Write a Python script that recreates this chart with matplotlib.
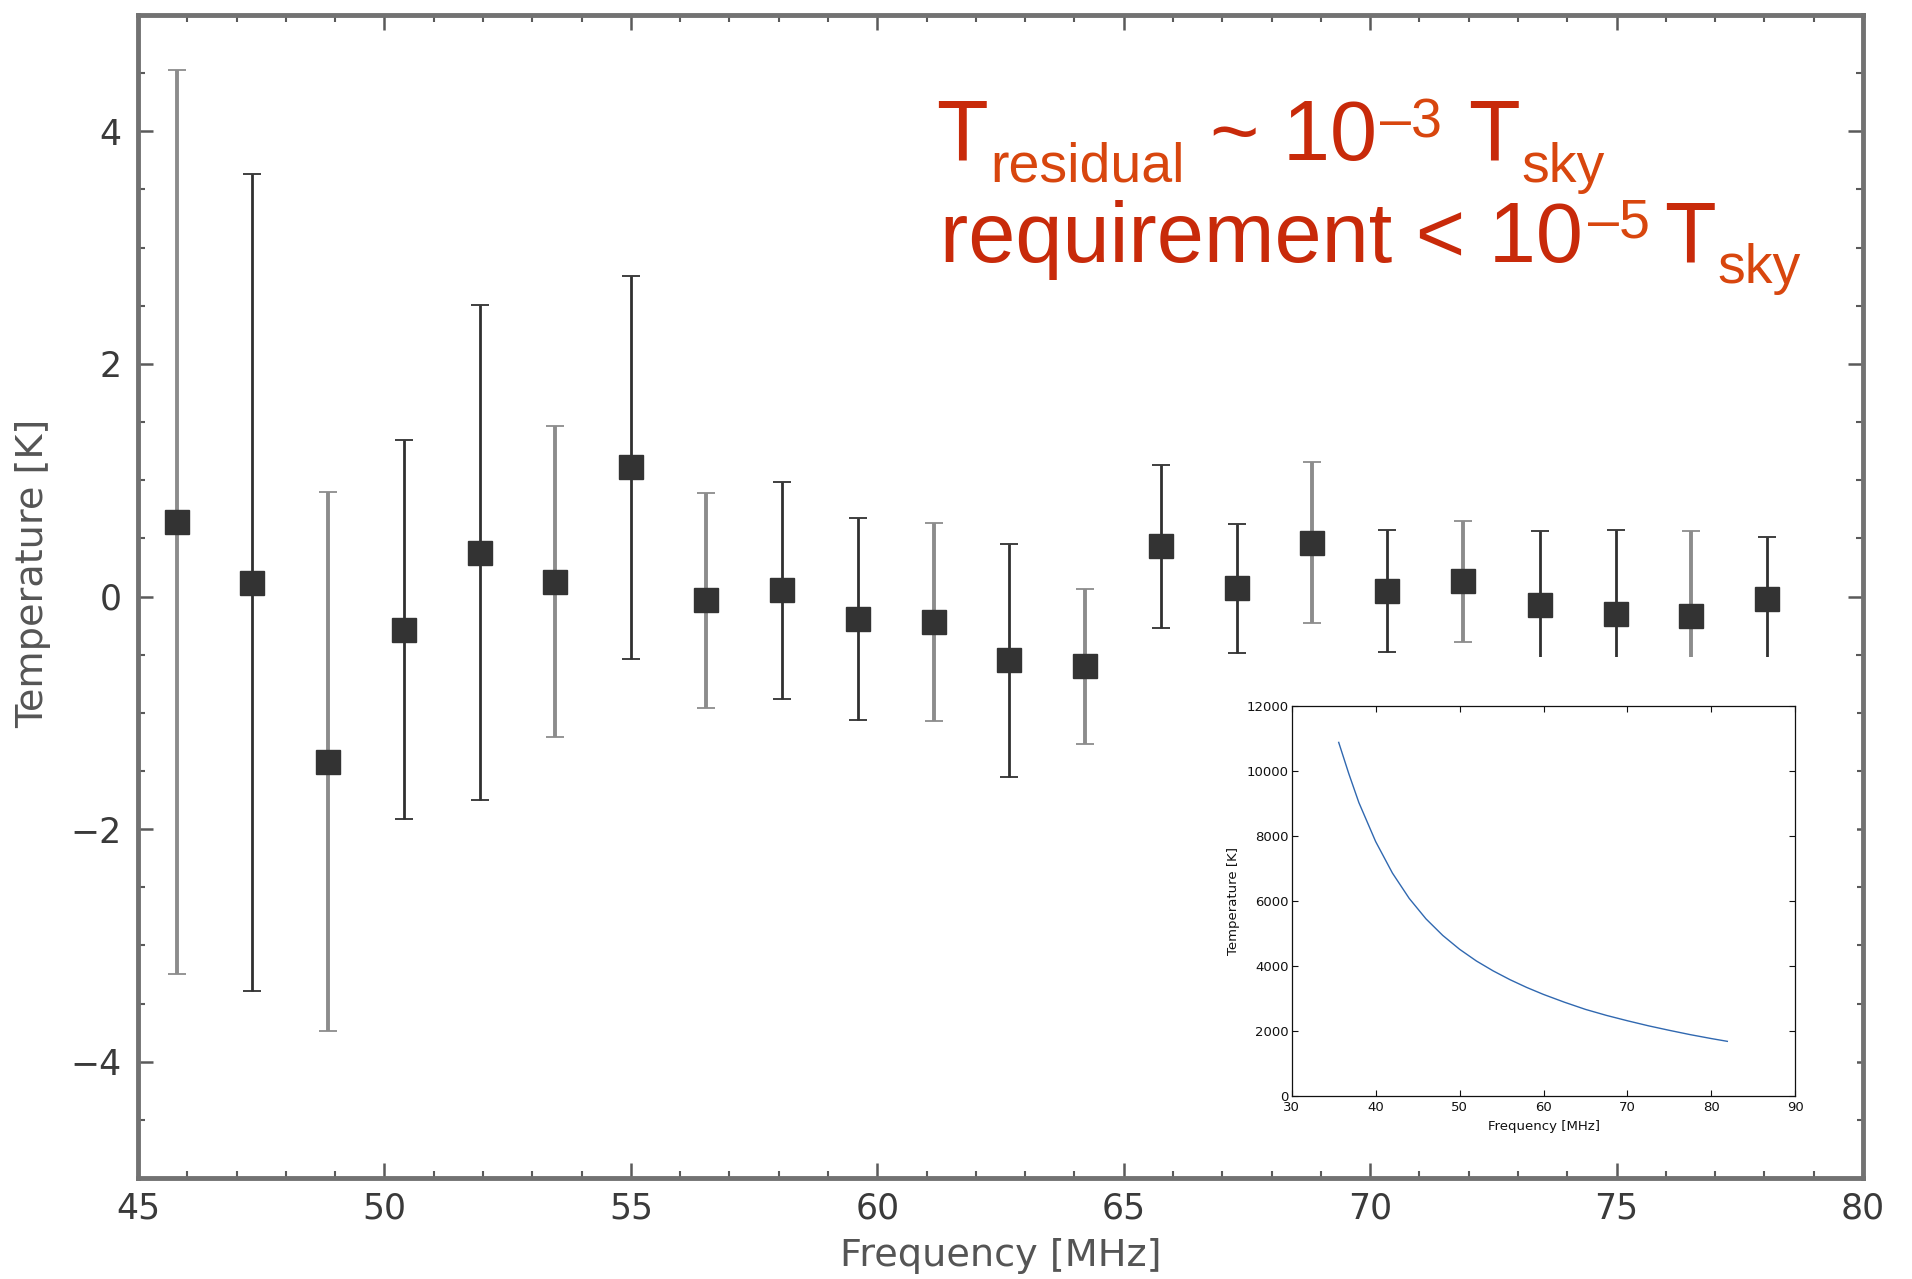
import matplotlib
matplotlib.use("Agg")
import matplotlib.pyplot as plt
from matplotlib.patches import Rectangle
from matplotlib.ticker import MultipleLocator

# residual spectrum (main panel)
freq = [45.79, 47.32, 48.86, 50.39, 51.93, 53.46, 55.00, 56.53, 58.07, 59.60, 61.15,
        62.68, 64.22, 65.75, 67.29, 68.82, 70.35, 71.89, 73.44, 74.98, 76.51, 78.05]
resid = [0.64, 0.12, -1.42, -0.285, 0.377, 0.126, 1.11, -0.033, 0.052, -0.193, -0.222,
         -0.55, -0.60, 0.43, 0.07, 0.463, 0.044, 0.129, -0.076, -0.151, -0.165, -0.02]
resid_err = [3.89, 3.51, 2.32, 1.63, 2.13, 1.336, 1.645, 0.927, 0.93, 0.87, 0.85,
             1.0, 0.665, 0.70, 0.556, 0.693, 0.524, 0.52, 0.64, 0.726, 0.73, 0.534]

# sky temperature (inset)
sky_freq = [35.6, 36.8, 38, 40, 42, 44, 46, 48, 50, 52, 54, 56, 58, 60,
            62.5, 65, 67.5, 70, 72.5, 75, 77.5, 80, 81.9]
sky_temp = [10880, 9920, 9030, 7830, 6860, 6080, 5450, 4940, 4515, 4155, 3850, 3580,
            3340, 3125, 2885, 2665, 2480, 2315, 2160, 2020, 1887, 1767, 1682]

# bars that look lighter in the (blurry) original
light_bar = [1, 0, 1, 0, 0, 1, 0, 1, 0, 0, 1, 0, 1, 0, 0, 1, 0, 1, 0, 0, 1, 0]

W, H = 1912, 1279
fig = plt.figure(figsize=(W / 100, H / 100), dpi=100)
fig.patch.set_facecolor("white")

ax = fig.add_axes([138 / W, 1 - 1178 / H, (1863 - 138) / W, (1178 - 15) / H], zorder=0)

for i in range(len(freq)):
    if light_bar[i]:
        ec, lw = "#8c8c8c", 2.8
    else:
        ec, lw = "#303030", 2.0
    line, caps, bars = ax.errorbar(freq[i], resid[i], yerr=resid_err[i], fmt="s",
                                   color="#333333", ms=17.5, ecolor=ec, elinewidth=lw,
                                   capsize=6.5, capthick=1.3, zorder=3)
    for c in caps:
        c.set_color("#a0a0a0")

ax.set_xlim(45, 80)
ax.set_ylim(-5, 5)
ax.set_xticks([45, 50, 55, 60, 65, 70, 75, 80])
ax.set_yticks([-4, -2, 0, 2, 4])
ax.xaxis.set_minor_locator(MultipleLocator(1))
ax.yaxis.set_minor_locator(MultipleLocator(0.5))
ax.tick_params(which="both", direction="in", top=True, right=True, colors="#5a5a5a",
               labelcolor="#3a3a3a", labelsize=25)
ax.tick_params(which="major", length=11, width=1.8)
ax.tick_params(which="minor", length=5, width=1.5)
ax.tick_params(axis="x", pad=10)
ax.tick_params(axis="y", pad=12)
for s in ax.spines.values():
    s.set_linewidth(3.5)
    s.set_color("#727272")

ax.set_xlabel("Frequency [MHz]", fontsize=27.5, color="#555555")
ax.set_ylabel("Temperature [K]", fontsize=27.5, color="#555555")
ax.xaxis.set_label_coords(0.5, -0.067)
ax.xaxis.label.set_va("center")
ax.yaxis.set_label_coords(-0.061, 0.52)
ax.yaxis.label.set_va("center")

# white backing of the pasted inset
fig.add_artist(Rectangle((1215 / W, 1 - 1150 / H), (1857 - 1215) / W, (1150 - 657) / H,
                         transform=fig.transFigure, facecolor="white", edgecolor="none",
                         zorder=1))

ins = fig.add_axes([1291.7 / W, 1 - 1096 / H, (1795.3 - 1291.7) / W, 390 / H], zorder=2)
ins.plot(sky_freq, sky_temp, color="#3068b0", lw=1.0)
ins.set_xlim(30, 90)
ins.set_ylim(0, 12000)
ins.set_xticks(range(30, 91, 10))
ins.set_yticks(range(0, 12001, 2000))
ins.tick_params(direction="in", top=True, right=True, length=4, width=0.8,
                labelsize=9.5, colors="#111111")
ins.tick_params(axis="x", pad=3.5)
ins.tick_params(axis="y", pad=2)
for s in ins.spines.values():
    s.set_linewidth(0.9)
    s.set_color("#111111")
ins.set_xlabel("Frequency [MHz]", fontsize=9.5, color="#111111")
ins.set_ylabel("Temperature [K]", fontsize=9.5, color="#111111")
ins.xaxis.set_label_coords(0.5, -0.077)
ins.xaxis.label.set_va("center")
ins.yaxis.set_label_coords(-0.115, 0.5)
ins.yaxis.label.set_va("center")

# red annotation, written piece by piece
big, small = 61, 40
red, orange = "#c82a0a", "#d8460e"
renderer = fig.canvas.get_renderer()


def write_line(x, y, pieces):
    for s, size, dy, gap, col in pieces:
        x += gap
        t = fig.text(x / W, 1 - (y - dy) / H, s, fontsize=size, color=col,
                     family="Liberation Sans", ha="left", va="baseline", zorder=5)
        x += t.get_window_extent(renderer).width


write_line(936, 160, [("T", big, 0, 0, red),
                      ("residual", small, -22, 2, orange),
                      ("~ 10", big, 0, 26, red),
                      ("\u20133", small, 22, 3, orange),
                      ("T", big, 0, 26, red),
                      ("sky", small, -22, 2, orange)])
write_line(940, 262, [("requirement < 10", big, 0, 0, red),
                      ("\u20135", small, 24, 5, orange),
                      ("T", big, 0, 14, red),
                      ("sky", small, -21, 2, orange)])

fig.savefig("out.png", dpi=100, facecolor="white")
